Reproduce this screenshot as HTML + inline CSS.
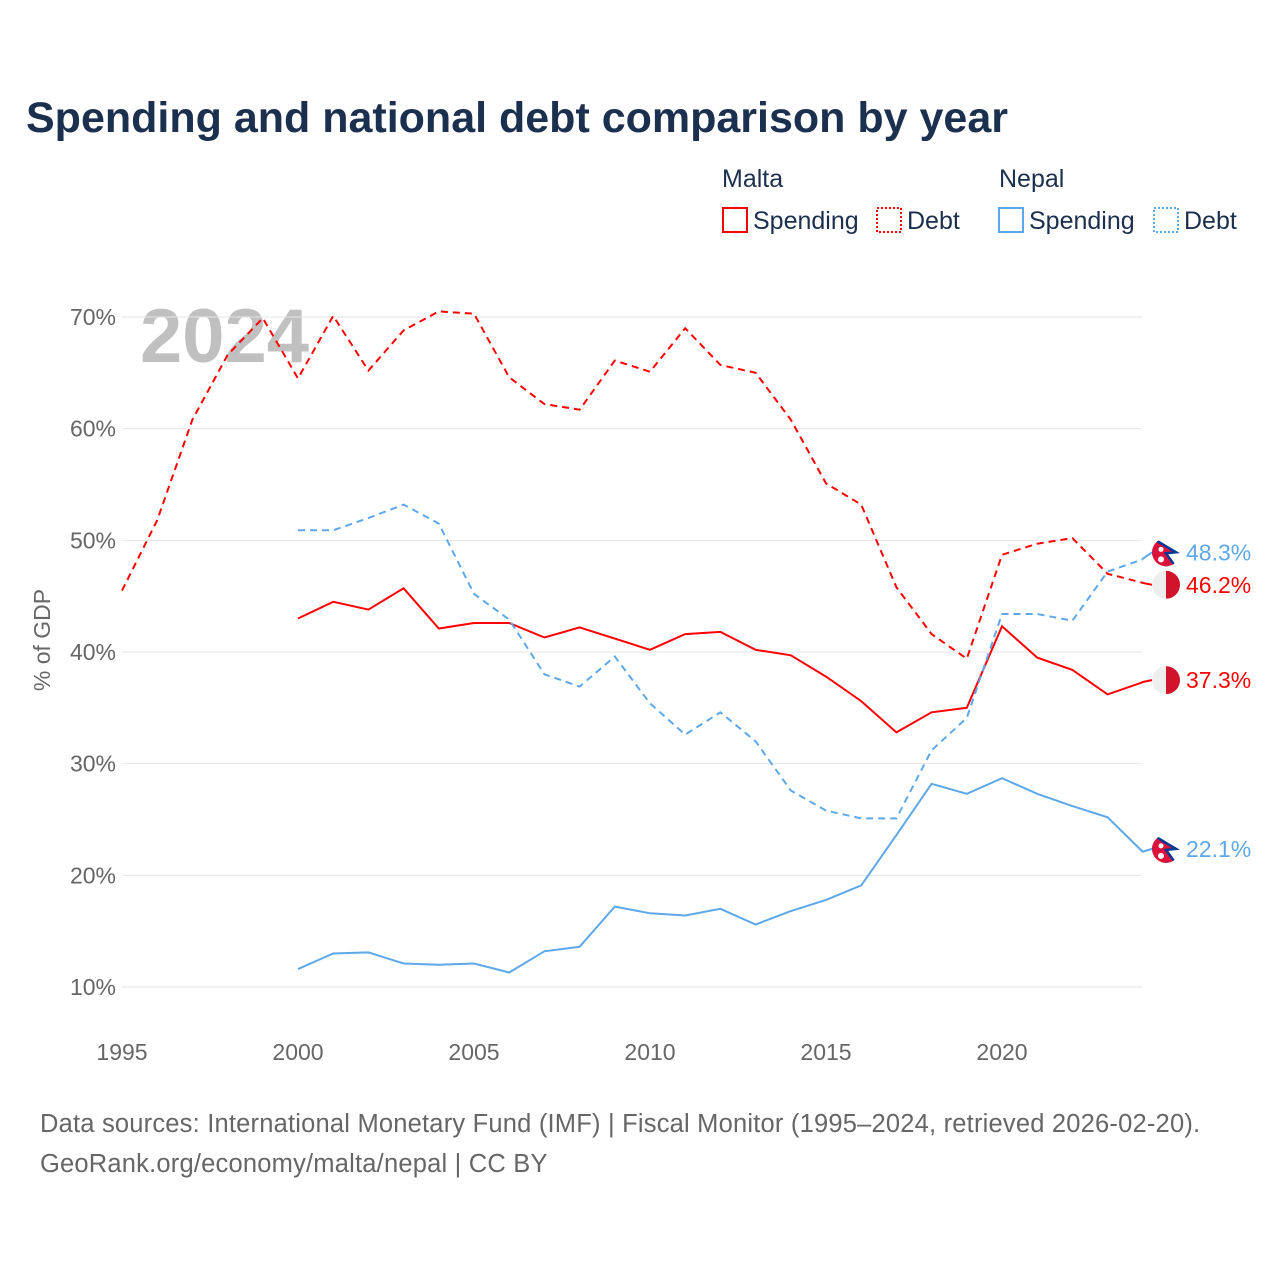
<!DOCTYPE html>
<html><head><meta charset="utf-8"><style>
body{margin:0;background:#fff;font-family:"Liberation Sans",sans-serif;}
#wrap{position:relative;width:1280px;height:1280px;overflow:hidden;}
</style></head><body>
<div id="wrap">
<svg id="chart" width="1280" height="1280" xmlns="http://www.w3.org/2000/svg">
<defs><clipPath id="cc"><circle cx="0" cy="0" r="14"/></clipPath></defs>
<text x="26" y="132" font-size="43" font-weight="bold" fill="#1b2f4f">Spending and national debt comparison by year</text>
<g font-size="25" fill="#1b2f4f">
<text x="722" y="187">Malta</text>
<text x="999" y="187">Nepal</text>
<g><rect x="723" y="208" width="24" height="24" fill="none" stroke="#ff0000" stroke-width="2"/><text x="753" y="229">Spending</text></g>
<g><rect x="877" y="208" width="24" height="24" fill="none" stroke="#ff0000" stroke-width="2" stroke-dasharray="2,2"/><text x="907" y="229">Debt</text></g>
<g><rect x="999" y="208" width="24" height="24" fill="none" stroke="#5ea8ea" stroke-width="2"/><text x="1029" y="229">Spending</text></g>
<g><rect x="1154" y="208" width="24" height="24" fill="none" stroke="#5ea8ea" stroke-width="2" stroke-dasharray="2,2"/><text x="1184" y="229">Debt</text></g>
</g>
<text x="140" y="362" font-size="76" font-weight="bold" fill="#c0c0c0">2024</text>
<g id="grid"></g><g id="series"></g><g id="ends"></g>
<text transform="translate(50,640) rotate(-90)" text-anchor="middle" font-size="23" fill="#666">% of GDP</text>
<text x="40" y="1132" font-size="25.5" letter-spacing="0.2" fill="#666">Data sources: International Monetary Fund (IMF) | Fiscal Monitor (1995–2024, retrieved 2026-02-20).</text>
<text x="40" y="1172" font-size="25.5" letter-spacing="0.2" fill="#666">GeoRank.org/economy/malta/nepal | CC BY</text>
</svg>
</div>
<script>
const maltaDebtYears=[1995,1996,1997,1998,1999,2000,2001,2002,2003,2004,2005,2006,2007,2008,2009,2010,2011,2012,2013,2014,2015,2016,2017,2018,2019,2020,2021,2022,2023,2024];
const maltaDebt=[45.5,51.8,60.8,66.6,69.9,64.5,70.1,65.2,68.8,70.5,70.3,64.6,62.2,61.7,66.1,65.1,69.0,65.7,65.0,60.8,55.1,53.2,45.8,41.6,39.4,48.7,49.7,50.2,47.0,46.2];
const years2000=[2000,2001,2002,2003,2004,2005,2006,2007,2008,2009,2010,2011,2012,2013,2014,2015,2016,2017,2018,2019,2020,2021,2022,2023,2024];
const maltaSpending=[43.0,44.5,43.8,45.7,42.1,42.6,42.6,41.3,42.2,41.2,40.2,41.6,41.8,40.2,39.7,37.8,35.6,32.8,34.6,35.0,42.3,39.5,38.4,36.2,37.3];
const nepalDebt=[50.9,50.9,52.0,53.2,51.5,45.2,42.9,38.0,36.9,39.6,35.4,32.6,34.6,32.0,27.6,25.8,25.1,25.1,31.2,34.1,43.4,43.4,42.8,47.2,48.3];
const nepalSpending=[11.6,13.0,13.1,12.1,12.0,12.1,11.3,13.2,13.6,17.2,16.6,16.4,17.0,15.6,16.8,17.8,19.1,23.6,28.2,27.3,28.7,27.3,26.2,25.2,22.1];
const yTicks=[10,20,30,40,50,60,70];
const xTicks=[1995,2000,2005,2010,2015,2020];
const X=y=>122+(y-1995)*35.2;
const Y=v=>987-(v-10)*(670/60);
const NS="http://www.w3.org/2000/svg";
function mk(tag,attrs,parent){const e=document.createElementNS(NS,tag);for(const k in attrs)e.setAttribute(k,attrs[k]);parent.appendChild(e);return e;}
const grid=document.getElementById('grid');
yTicks.forEach(v=>{
 const l=mk('line',{x1:122,x2:1142,y1:Y(v),y2:Y(v),stroke:'#e6e6e6','stroke-width':1},grid);
 
 
 const t=mk('text',{x:116,y:Y(v)+8,'text-anchor':'end','font-size':23,fill:'#666'},grid);
 t.textContent=v+'%';
 
 
});
xTicks.forEach(yr=>{
 const t=mk('text',{x:X(yr),y:1060,'text-anchor':'middle','font-size':23,fill:'#666'},grid);
 t.textContent=yr;
 
 
});
const ser=document.getElementById('series');
function line(xs,vs,color,dash,name){
 const d=xs.map((x,i)=>(i?'L':'M')+X(x).toFixed(1)+','+Y(vs[i]).toFixed(1)).join(' ');
 const p=mk('path',{d:d,fill:'none',stroke:color,'stroke-width':2,'stroke-dasharray':dash},ser);
 
 
}
line(maltaDebtYears,maltaDebt,'#ff0000','7,5','line-malta-debt');
line(years2000,maltaSpending,'#ff0000','none','line-malta-spending');
line(years2000,nepalDebt,'#5ea8ea','7,5','line-nepal-debt');
line(years2000,nepalSpending,'#5ea8ea','none','line-nepal-spending');
const ends=document.getElementById('ends');
function endLabel(val,color,country,name,labelDy){
 const y=Y(val)+labelDy,fx=1166;
 mk('line',{x1:1142,x2:1152,y1:Y(val),y2:y,stroke:color,'stroke-width':2},ends);
 const g=mk('g',{transform:`translate(${fx},${y})`},ends);
 
 
 const inner=mk('g',{'clip-path':'url(#cc)'},g);
 if(country==='malta'){
  mk('rect',{x:-14,y:-14,width:14,height:28,fill:'#eee'},inner);
  mk('rect',{x:0,y:-14,width:14,height:28,fill:'#cf142b'},inner);
 }else{
  mk('rect',{x:-14,y:-14,width:28,height:28,fill:'#fff'},inner);
  mk('path',{d:'M-15,-15 L10,0 L0,1 L10,15 L-15,15 Z',fill:'#dc143c',stroke:'#003893','stroke-width':2.5},inner);
  mk('circle',{cx:-5,cy:-3,r:2.5,fill:'#fff'},inner);
  mk('circle',{cx:-5,cy:7,r:3,fill:'#fff'},inner);
 }
 const t=mk('text',{x:1186,y:y+8,'font-size':23,fill:color},ends);
 t.textContent=val.toFixed(1)+'%';
 
 
}
endLabel(nepalDebt[nepalDebt.length-1],'#5ea8ea','nepal','nepal-debt',-7);
endLabel(maltaDebt[maltaDebt.length-1],'#ff0000','malta','malta-debt',2);
endLabel(maltaSpending[maltaSpending.length-1],'#ff0000','malta','malta-spending',-2);
endLabel(nepalSpending[nepalSpending.length-1],'#5ea8ea','nepal','nepal-spending',-3);
</script>
</body></html>
